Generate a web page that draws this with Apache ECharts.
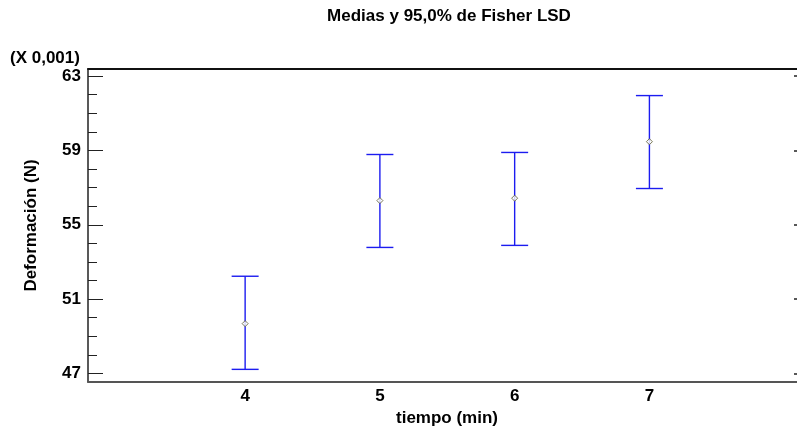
<!DOCTYPE html>
<html>
<head>
<meta charset="utf-8">
<script src="https://cdn.jsdelivr.net/npm/echarts@6/dist/echarts.min.js"></script>
<style>html,body{margin:0;padding:0;background:#fff}#c{width:797px;height:430px}</style>
</head>
<body>
<div id="c"></div>
<script>
// Data (values shown in units of 0,001)
const categories = [4, 5, 6, 7];
const means = [49.68, 56.30, 56.43, 59.47];
const lowers = [47.22, 53.78, 53.89, 56.95];
const uppers = [52.23, 58.78, 58.89, 61.95];
const yTickLabels = [47, 51, 55, 59, 63];
const yMinorTicks = [47,48,49,50,51,52,53,54,55,56,57,58,59,60,61,62,63];

const FONT = 'Liberation Sans, Arial, sans-serif';
const FS = 17;
const chart = echarts.init(document.getElementById('c'));

const barData = categories.map((c, i) => [c, means[i], lowers[i], uppers[i]]);
const meanData = categories.map((c, i) => [c, means[i]]);

const yRange = { min: 46.54, max: 63.38 };

chart.setOption({
  animation: false,
  title: {
    text: 'Medias y 95,0% de Fisher LSD',
    left: 444, top: 3, textAlign: 'center',
    textStyle: { fontFamily: FONT, fontSize: FS, fontWeight: 'bold', color: '#000' }
  },
  graphic: [
    { type: 'text', left: 10, top: 50,
      style: { text: '(X 0,001)', font: 'bold ' + FS + 'px ' + FONT, fill: '#000' } }
  ],
  grid: { left: 88, top: 69, right: -2, bottom: 48, outerBoundsMode: 'none', containLabel: false },
  xAxis: [
    {
      type: 'value', min: 2.834, max: 8.11,
      name: 'tiempo (min)', nameLocation: 'middle', nameGap: 28,
      nameTextStyle: { fontFamily: FONT, fontSize: FS, fontWeight: 'bold', color: '#000',
        padding: [0, 0, 0, 7] },
      axisLine: { show: true, onZero: false, lineStyle: { color: '#555', width: 2 } },
      axisTick: { show: false },
      splitLine: { show: false },
      axisLabel: { customValues: categories, margin: 6,
        fontFamily: FONT, fontSize: FS, fontWeight: 'bold', color: '#000' }
    },
    {
      type: 'value', position: 'top', min: 2.834, max: 8.11,
      axisLine: { show: true, lineStyle: { color: '#111', width: 2 } },
      axisTick: { show: false }, axisLabel: { show: false }, splitLine: { show: false }
    }
  ],
  yAxis: [
    {
      type: 'value', ...yRange, position: 'left',
      name: 'Deformación (N)', nameLocation: 'middle', nameGap: 48,
      nameTextStyle: { fontFamily: FONT, fontSize: FS, fontWeight: 'bold', color: '#000' },
      axisLine: { show: true, onZero: false, lineStyle: { color: '#222', width: 1.5 } },
      axisTick: { show: true, inside: true, length: 9, customValues: yMinorTicks,
        lineStyle: { color: '#222', width: 1 } },
      axisLabel: { customValues: yTickLabels, margin: 7,
        fontFamily: FONT, fontSize: FS, fontWeight: 'bold', color: '#000' },
      splitLine: { show: false }
    },
    {
      type: 'value', ...yRange, position: 'left',
      axisLine: { show: false },
      axisTick: { show: true, inside: true, length: 15, customValues: yTickLabels,
        lineStyle: { color: '#222', width: 1 } },
      axisLabel: { show: false }, splitLine: { show: false }
    },
    {
      type: 'value', ...yRange, position: 'right',
      axisLine: { show: false },
      axisTick: { show: true, inside: true, length: 5, customValues: yTickLabels,
        lineStyle: { color: '#222', width: 1.5 } },
      axisLabel: { show: false }, splitLine: { show: false }
    }
  ],
  series: [
    {
      type: 'custom',
      data: barData,
      renderItem: function (params, api) {
        const x = api.value(0);
        const lo = api.coord([x, api.value(2)]);
        const hi = api.coord([x, api.value(3)]);
        const hw = 13.5;
        const style = { stroke: '#1c1cf0', lineWidth: 1.4 };
        return {
          type: 'group',
          children: [
            { type: 'line', shape: { x1: lo[0], y1: lo[1], x2: hi[0], y2: hi[1] }, style },
            { type: 'line', shape: { x1: hi[0] - hw, y1: hi[1], x2: hi[0] + hw, y2: hi[1] }, style },
            { type: 'line', shape: { x1: lo[0] - hw, y1: lo[1], x2: lo[0] + hw, y2: lo[1] }, style }
          ]
        };
      },
      z: 2
    },
    {
      type: 'scatter',
      data: meanData,
      symbol: 'diamond',
      symbolSize: 6,
      itemStyle: { color: '#ffffff', borderColor: '#5a5a30', borderWidth: 1 },
      z: 3
    }
  ]
});
</script>
</body>
</html>
